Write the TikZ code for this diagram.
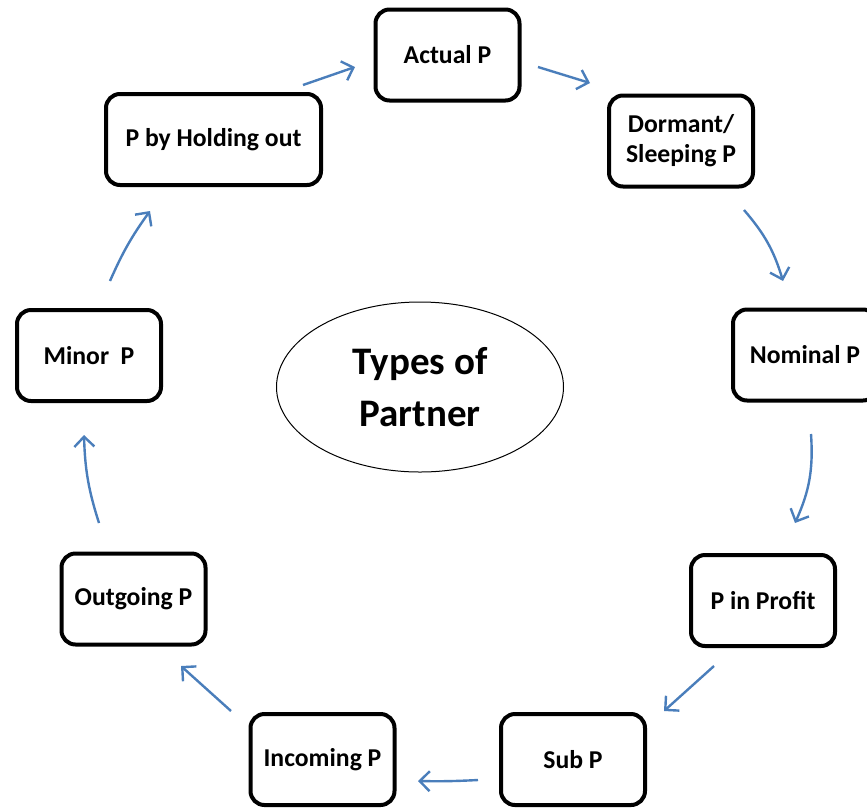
\documentclass[tikz,border=0pt]{standalone}
\usepackage{fontspec}
\setmainfont{Carlito}
\usetikzlibrary{arrows.meta,shapes.geometric}
\definecolor{arrowblue}{HTML}{4A7EBB}
\tikzset{
  pbox/.style={draw=black, line width=4pt, rounded corners=14pt, fill=white,
    minimum width=144pt, minimum height=91pt, inner sep=2pt, align=center,
    font=\bfseries\fontsize{25.7}{30}\selectfont},
  flow/.style={draw=arrowblue, line width=2.4pt,
    -{Straight Barb[length=10pt,width=20pt,line width=2.4pt]}},
}
\begin{document}
\begin{tikzpicture}[x=1pt,y=-1pt]
\useasboundingbox (0,0) rectangle (867,807);
% center ellipse
\node[draw=black, line width=1pt, ellipse, minimum width=287pt, minimum height=170pt,
  align=center, font=\bfseries\fontsize{39}{52}\selectfont] (title) at (420,387) {Types of\\Partner};
% boxes
\node[pbox] (actual) at (447.5,55) {Actual P};
\node[pbox] (dormant) at (681,141) {Dormant/\\Sleeping P};
\node[pbox] (nominal) at (805,355) {Nominal P};
\node[pbox] (profit) at (763,600.5) {P in Profit};
\node[pbox] (sub) at (573,759.5) {Sub P};
\node[pbox] (incoming) at (322.5,759.5) {Incoming P};
\node[pbox] (outgoing) at (133.5,599) {Outgoing P};
\node[pbox] (minor) at (89,355.5) {Minor\ \ P};
\node[pbox, minimum width=215pt] (holding) at (213.5,139.5) {P by Holding out};
% arrow end points
\coordinate (a1s) at (303,85);  \coordinate (a1e) at (355,67);
\coordinate (a2s) at (538,67);  \coordinate (a2e) at (590,83);
\coordinate (a3s) at (744,210); \coordinate (a3e) at (783,281);
\coordinate (a4s) at (811,434); \coordinate (a4e) at (795,523);
\coordinate (a5s) at (714,666); \coordinate (a5e) at (664,711);
\coordinate (a6s) at (478,780); \coordinate (a6e) at (418,781);
\coordinate (a7s) at (231,711); \coordinate (a7e) at (181,666);
\coordinate (a8s) at (99,523);  \coordinate (a8e) at (84,435);
\coordinate (a9s) at (110,281); \coordinate (a9e) at (150,211);
% arrows
\draw[flow] (a1s) -- (a1e);
\draw[flow] (a2s) -- (a2e);
\draw[flow] (a3s) to[bend left=12] (a3e);
\draw[flow] (a4s) to[bend left=14] (a4e);
\draw[flow] (a5s) -- (a5e);
\draw[flow] (a6s) to[bend left=2] (a6e);
\draw[flow] (a7s) -- (a7e);
\draw[flow] (a8s) to[bend left=8] (a8e);
\draw[flow] (a9s) to[bend left=6] (a9e);
\end{tikzpicture}
\end{document}
